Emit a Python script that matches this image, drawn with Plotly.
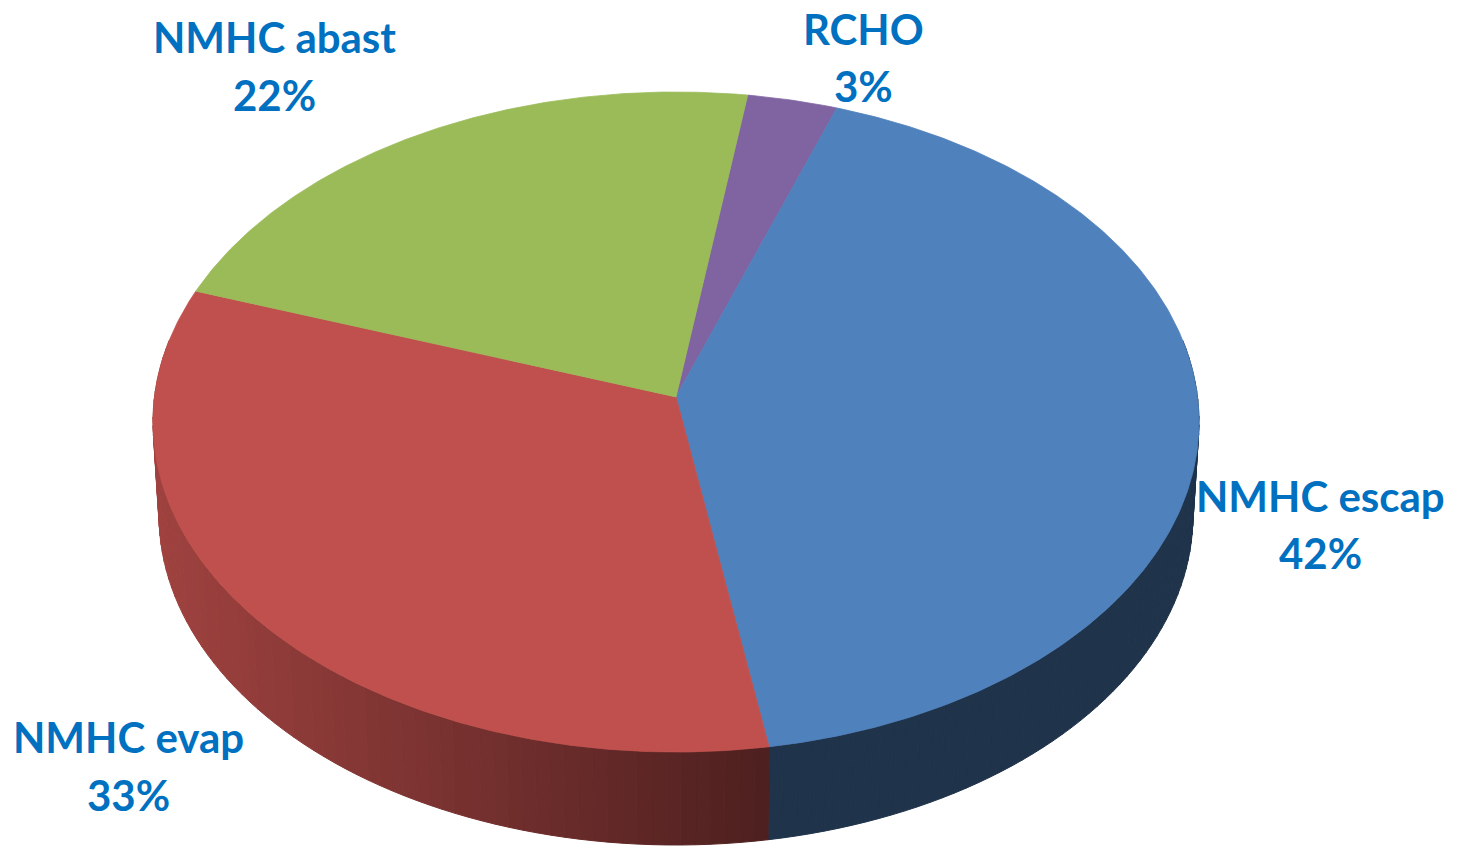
import numpy as np
import plotly.graph_objects as go

# ---- data ----
categories = ["RCHO", "NMHC escap", "NMHC evap", "NMHC abast"]
values = [3, 42, 33, 22]
pct_labels = ["3%", "42%", "33%", "22%"]
top_colors = ["#8064A2", "#4F81BD", "#C0504D", "#9BBB59"]

# ---- geometry / style (pixel space) ----
W, H = 1459, 852
CX, CY = 676, 422          # top ellipse centre
RX, RY = 523, 330          # top ellipse radii
DEPTH = 93                 # thickness of the pie
RXB = 517                  # bottom ellipse x radius (perspective)
PERSP = 0.076              # perspective factor (shifts projected centre upward)
START = 8.5                # start angle, degrees clockwise from top
LABEL_POS = {              # (x, y of name line, y of pct line)
    "RCHO": (863, 29, 86),
    "NMHC escap": (1320, 496, 553),
    "NMHC evap": (128, 737, 795),
    "NMHC abast": (274, 37, 95),
}
TEXT_COLOR = "#0070C0"


def persp(u, v):
    e = PERSP
    d = 1 + e * v
    return u * np.sqrt(1 - e * e) / d, (v + e) / d


def rim(deg, bottom=False):
    t = np.radians(np.asarray(deg, dtype=float))
    u, v = persp(np.sin(t), np.cos(t))
    rx = RXB if bottom else RX
    x = CX + rx * u
    y = CY - RY * v + (DEPTH if bottom else 0)
    return x, y


def centre():
    u, v = persp(0.0, 0.0)
    return CX + RX * u, CY - RY * v


def hex_to_rgb(h):
    h = h.lstrip("#")
    return tuple(int(h[i:i + 2], 16) for i in (0, 2, 4))


def shade(hexcol, x):
    # lighting: brighter on the left side, dark toward front/right
    if x <= 775:
        f = 0.83 + (0.40 - 0.83) * (x - 157) / (775 - 157)
    else:
        f = 0.40
    f = max(0.38, min(0.85, f))
    r, g, b = hex_to_rgb(hexcol)
    return "rgb(%d,%d,%d)" % (r * f, g * f, b * f)


fig = go.Figure()

# slice angle bounds
total = float(sum(values))
bounds = []
a = START
for v in values:
    span = 360.0 * v / total
    bounds.append((a, a + span))
    a += span

# ---- side walls ----
VIS0, VIS1 = 80.0, 280.0
for (a0, a1), col in zip(bounds, top_colors):
    for off in (0.0, 360.0):
        s0, s1 = max(a0 - off, VIS0), min(a1 - off, VIS1)
        if s1 <= s0:
            continue
        n = max(1, int(np.ceil((s1 - s0) / 1.5)))
        edges = np.linspace(s0, s1, n + 1)
        for e0, e1 in zip(edges[:-1], edges[1:]):
            ts = np.linspace(e0, e1, 4)
            xt, yt = rim(ts)
            xb, yb = rim(ts[::-1], bottom=True)
            xs = np.concatenate([xt, xb, xt[:1]])
            ys = np.concatenate([yt, yb, yt[:1]])
            c = shade(col, float(np.mean(xt)))
            fig.add_trace(go.Scatter(
                x=xs, y=ys, mode="lines", fill="toself", fillcolor=c,
                line=dict(color=c, width=1), hoverinfo="skip", showlegend=False))

# ---- top face ----
ax_, ay_ = centre()
for (a0, a1), col, name in zip(bounds, top_colors, categories):
    ts = np.linspace(a0, a1, max(4, int((a1 - a0) / 0.5)))
    xr, yr = rim(ts)
    xs = np.concatenate([[ax_], xr, [ax_]])
    ys = np.concatenate([[ay_], yr, [ay_]])
    fig.add_trace(go.Scatter(
        x=xs, y=ys, mode="lines", fill="toself", fillcolor=col,
        line=dict(color=col, width=0.8), name=name,
        hoverinfo="name", showlegend=False))

# ---- labels ----
for name, pct in zip(categories, pct_labels):
    lx, ly1, ly2 = LABEL_POS[name]
    for txt, ly in ((name, ly1), (pct, ly2)):
        fig.add_annotation(
            x=lx, y=ly, text=txt, showarrow=False, xanchor="center", yanchor="middle",
            font=dict(family="Lato", size=42, color=TEXT_COLOR, weight="bold"))

fig.update_layout(
    width=W, height=H, margin=dict(l=0, r=0, t=0, b=0),
    paper_bgcolor="white", plot_bgcolor="white",
    xaxis=dict(range=[0, W], visible=False, fixedrange=True),
    yaxis=dict(range=[H, 0], visible=False, fixedrange=True),
    showlegend=False,
)

fig.write_html("out.html",
               config={"displayModeBar": False},
               post_script="document.body.style.margin='0';document.body.style.overflow='hidden';")
